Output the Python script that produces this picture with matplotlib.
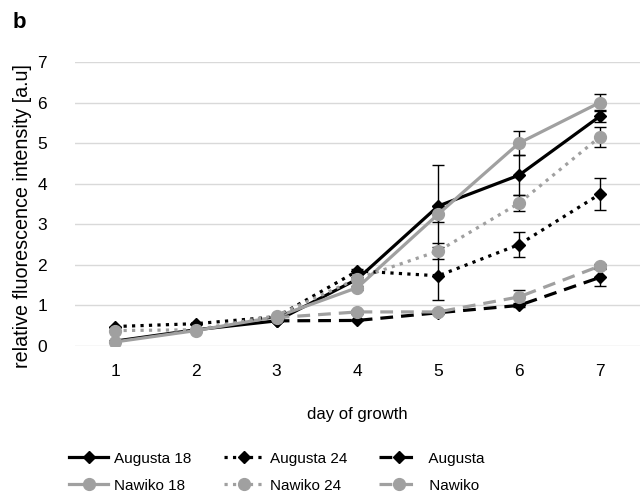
import numpy as np
import matplotlib
matplotlib.use("Agg")
import matplotlib.pyplot as plt

plt.rcParams["font.family"] = ["Liberation Sans", "DejaVu Sans"]

days = [1, 2, 3, 4, 5, 6, 7]

augusta_18 = [0.12, 0.40, 0.62, 1.65, 3.45, 4.21, 5.66]
augusta_18_err = [0.0, 0.0, 0.0, 0.05, 1.0, 0.5, 0.15]
augusta_24 = [0.48, 0.55, 0.72, 1.85, 1.73, 2.50, 3.74]
augusta_24_err = [0.0, 0.0, 0.0, 0.05, 0.6, 0.3, 0.4]
augusta = [np.nan, np.nan, 0.62, 0.63, 0.82, 1.00, 1.69]
augusta_err = [0.0, 0.0, 0.0, 0.0, 0.0, 0.05, 0.2]

nawiko_18 = [0.10, 0.38, 0.72, 1.44, 3.25, 5.00, 6.00]
nawiko_18_err = [0.0, 0.0, 0.0, 0.05, 0.2, 0.3, 0.2]
nawiko_24 = [0.38, 0.40, 0.75, 1.66, 2.34, 3.52, 5.15]
nawiko_24_err = [0.0, 0.0, 0.0, 0.05, 0.2, 0.2, 0.25]
nawiko = [np.nan, np.nan, 0.70, 0.84, 0.84, 1.21, 1.97]
nawiko_err = [0.0, 0.0, 0.0, 0.05, 0.05, 0.18, 0.05]

BLACK = "#000000"
GREY = "#a0a0a0"

# legend fills column-wise, so Augusta / Nawiko pairs alternate
series = [
    ("Augusta 18", augusta_18, augusta_18_err, BLACK, "-", "D"),
    ("Nawiko 18", nawiko_18, nawiko_18_err, GREY, "-", "o"),
    ("Augusta 24", augusta_24, augusta_24_err, BLACK, ":", "D"),
    ("Nawiko 24", nawiko_24, nawiko_24_err, GREY, ":", "o"),
    (" Augusta", augusta, augusta_err, BLACK, (0, (4, 2.5)), "D"),
    (" Nawiko", nawiko, nawiko_err, GREY, (0, (4, 2.5)), "o"),
]

fig = plt.figure(figsize=(6.44, 4.94), dpi=100)
ax = fig.add_axes([0.116, 0.2996, 0.878, 0.5749])

handles = []
for label, vals, err, color, ls, mk in series:
    ms = 6 if mk == "D" else 8.5
    eb = ax.errorbar(days, vals, yerr=err, color=color, linestyle=ls,
                     linewidth=2.3, marker=mk, markersize=ms,
                     ecolor=BLACK, elinewidth=1, capsize=4, capthick=1,
                     label=label)
    handles.append(eb[0])

ax.set_xlim(0.5, 7.5)
ax.set_ylim(0, 7)
ax.set_xticks(days)
ax.set_yticks(range(0, 8))
ax.tick_params(length=0, labelsize=12.5, pad=13)
ax.tick_params(axis="y", pad=20)
ax.grid(axis="y", color="#d9d9d9", linewidth=1)
ax.set_axisbelow(True)
for s in ax.spines.values():
    s.set_visible(False)

ax.set_xlabel("day of growth", fontsize=12, labelpad=20)
ax.set_ylabel("relative fluorescence intensity [a.u]", fontsize=14.2)
ax.yaxis.set_label_coords(-0.076, 0.458)

fig.text(0.02, 0.955, "b", fontsize=16, fontweight="bold", va="center")

fig.legend(handles=handles, labels=[s[0] for s in series], ncol=3,
           numpoints=1, loc="center left", bbox_to_anchor=(61 / 644, 0.044),
           frameon=False, borderpad=0, fontsize=11, handlelength=2.6,
           columnspacing=2.1, labelspacing=0.85, handletextpad=0.4)

plt.savefig("out.png", dpi=100)
